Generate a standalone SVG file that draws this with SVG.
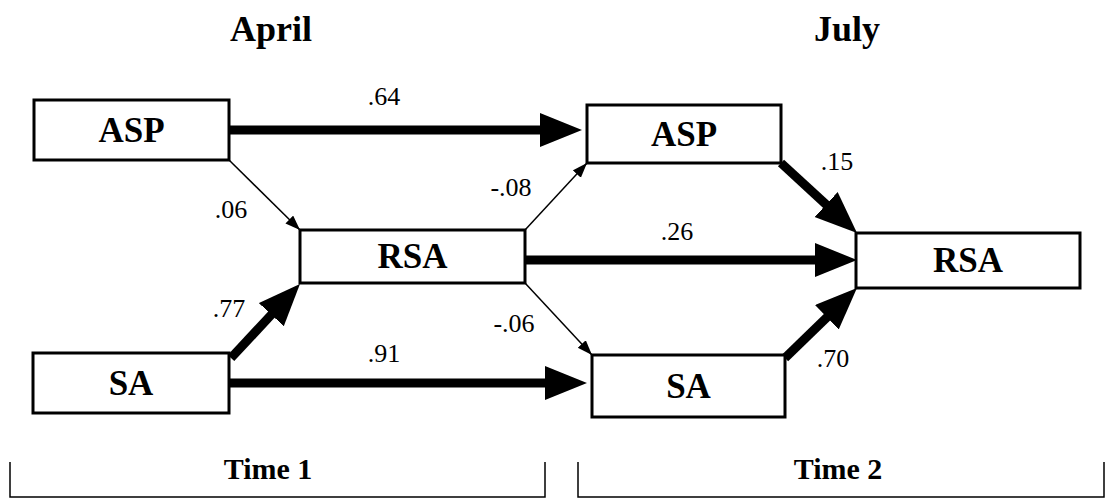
<svg xmlns="http://www.w3.org/2000/svg" width="1106" height="500" viewBox="0 0 1106 500">
  <style>
    .box { fill: #fff; stroke: #000; stroke-width: 3; }
    .node-label { font-family: "Liberation Serif", "Times New Roman", serif; font-weight: bold; font-size: 35px; text-anchor: middle; fill: #000; }
    .title { font-family: "Liberation Serif", "Times New Roman", serif; font-weight: bold; font-size: 36px; text-anchor: middle; fill: #000; }
    .time { font-family: "Liberation Serif", "Times New Roman", serif; font-weight: bold; font-size: 30px; text-anchor: middle; fill: #000; }
    .coef { font-family: "Liberation Serif", "Times New Roman", serif; font-size: 26px; text-anchor: middle; fill: #000; }
    .thick { stroke: #000; stroke-width: 9; fill: none; marker-end: url(#headThick); }
    .thin { stroke: #000; stroke-width: 1.5; fill: none; marker-end: url(#headThin); }
    .bracket { stroke: #000; stroke-width: 1.5; fill: none; }
  </style>
  <defs>
    <marker id="headThick" markerUnits="userSpaceOnUse" markerWidth="44" markerHeight="36" refX="2" refY="17" orient="auto">
      <path d="M0,0 L42,17 L0,34 z" fill="#000"/>
    </marker>
    <marker id="headThin" markerUnits="userSpaceOnUse" markerWidth="16" markerHeight="12" refX="15" refY="5.5" orient="auto">
      <path d="M0,0 L15,5.5 L0,11 z" fill="#000"/>
    </marker>
  </defs>

  <!-- column headings -->
  <text class="title" x="271" y="41">April</text>
  <text class="title" x="847" y="41">July</text>

  <!-- paths between variables -->
  <g id="connectors">
    <line class="thick" x1="229" y1="130" x2="542" y2="130"/>
    <line class="thin" x1="229" y1="160" x2="300" y2="230"/>
    <line class="thick" x1="231" y1="358" x2="272.7" y2="313.2"/>
    <line class="thick" x1="229" y1="383" x2="547" y2="383"/>
    <line class="thin" x1="525" y1="230" x2="587" y2="163"/>
    <line class="thick" x1="525" y1="260" x2="817" y2="260"/>
    <line class="thin" x1="525" y1="283" x2="592" y2="355"/>
    <line class="thick" x1="781" y1="163" x2="827.6" y2="205.9"/>
    <line class="thick" x1="785" y1="358" x2="828.3" y2="315.9"/>

    <text class="coef" x="384" y="105">.64</text>
    <text class="coef" x="231" y="218">.06</text>
    <text class="coef" x="229" y="317">.77</text>
    <text class="coef" x="384" y="362">.91</text>
    <text class="coef" x="511" y="196">-.08</text>
    <text class="coef" x="677" y="240">.26</text>
    <text class="coef" x="514" y="332">-.06</text>
    <text class="coef" x="837" y="170">.15</text>
    <text class="coef" x="833" y="367">.70</text>
  </g>

  <!-- April variables -->
  <g id="asp1">
    <rect class="box" x="34" y="100" width="195" height="60"/>
    <text class="node-label" x="131.5" y="142">ASP</text>
  </g>
  <g id="rsa1">
    <rect class="box" x="300" y="230" width="225" height="53"/>
    <text class="node-label" x="412.5" y="268">RSA</text>
  </g>
  <g id="sa1">
    <rect class="box" x="33" y="353" width="196" height="60"/>
    <text class="node-label" x="131" y="395">SA</text>
  </g>

  <!-- July variables -->
  <g id="asp2">
    <rect class="box" x="587" y="105" width="194" height="58"/>
    <text class="node-label" x="684" y="146">ASP</text>
  </g>
  <g id="sa2">
    <rect class="box" x="592" y="355" width="193" height="62"/>
    <text class="node-label" x="688.5" y="398">SA</text>
  </g>
  <g id="rsa2">
    <rect class="box" x="856" y="233" width="224" height="55"/>
    <text class="node-label" x="968" y="272">RSA</text>
  </g>

  <!-- time brackets -->
  <g id="time1">
    <path class="bracket" d="M10,462 V497 H545 V462"/>
    <text class="time" x="268" y="479">Time 1</text>
  </g>
  <g id="time2">
    <path class="bracket" d="M578,462 V497 H1104 V462"/>
    <text class="time" x="838" y="479">Time 2</text>
  </g>
</svg>
